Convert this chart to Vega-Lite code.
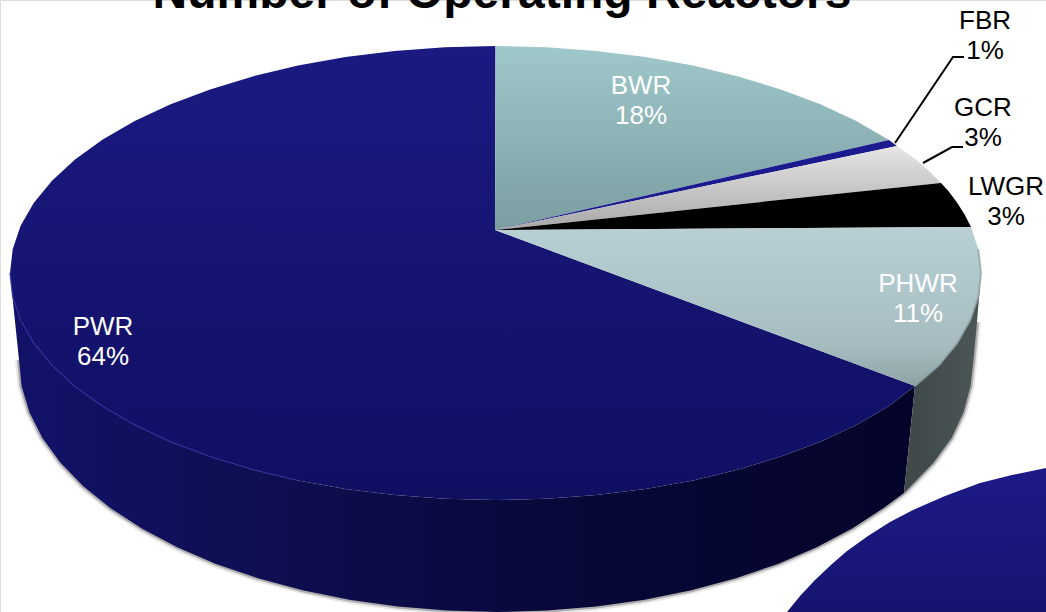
{"$schema":"https://vega.github.io/schema/vega-lite/v6.json","width":1046,"height":612,"autosize":"none","padding":0,"background":"white",
"datasets":{"outline":[
{"part":"wallPHWR","i":0,"x":981,"y":273},{"part":"wallPHWR","i":1,"x":978.3,"y":296.7},{"part":"wallPHWR","i":2,"x":970.4,"y":320.2},{"part":"wallPHWR","i":3,"x":957.3,"y":343.1},{"part":"wallPHWR","i":4,"x":939,"y":365.3},{"part":"wallPHWR","i":5,"x":915,"y":386},{"part":"wallPHWR","i":6,"x":904,"y":493},{"part":"wallPHWR","i":7,"x":911,"y":486},{"part":"wallPHWR","i":8,"x":933.7,"y":462.5},{"part":"wallPHWR","i":9,"x":951.6,"y":437.9},{"part":"wallPHWR","i":10,"x":963.5,"y":412.4},{"part":"wallPHWR","i":11,"x":970.5,"y":386.3},{"part":"wallPHWR","i":12,"x":973.5,"y":360},{"part":"wallPHWR","i":13,"x":977,"y":322},
{"part":"wallPWR","i":0,"x":915,"y":386},{"part":"wallPWR","i":1,"x":888.3,"y":406.4},{"part":"wallPWR","i":2,"x":856.3,"y":424.9},{"part":"wallPWR","i":3,"x":820.4,"y":441.7},{"part":"wallPWR","i":4,"x":780.9,"y":456.6},{"part":"wallPWR","i":5,"x":738.3,"y":469.6},{"part":"wallPWR","i":6,"x":693,"y":480.4},{"part":"wallPWR","i":7,"x":645.5,"y":488.9},{"part":"wallPWR","i":8,"x":596.4,"y":495},{"part":"wallPWR","i":9,"x":546.2,"y":498.8},{"part":"wallPWR","i":10,"x":495.5,"y":500},{"part":"wallPWR","i":11,"x":444.8,"y":498.8},{"part":"wallPWR","i":12,"x":394.6,"y":495},{"part":"wallPWR","i":13,"x":345.5,"y":488.9},{"part":"wallPWR","i":14,"x":298,"y":480.4},{"part":"wallPWR","i":15,"x":252.7,"y":469.6},{"part":"wallPWR","i":16,"x":210.1,"y":456.6},{"part":"wallPWR","i":17,"x":170.6,"y":441.7},{"part":"wallPWR","i":18,"x":134.7,"y":424.9},{"part":"wallPWR","i":19,"x":102.7,"y":406.4},{"part":"wallPWR","i":20,"x":75,"y":386.5},{"part":"wallPWR","i":21,"x":52,"y":365.3},{"part":"wallPWR","i":22,"x":33.7,"y":343.1},{"part":"wallPWR","i":23,"x":20.6,"y":320.2},{"part":"wallPWR","i":24,"x":12.7,"y":296.7},{"part":"wallPWR","i":25,"x":10,"y":273},{"part":"wallPWR","i":26,"x":19,"y":360},{"part":"wallPWR","i":27,"x":21.6,"y":386.3},{"part":"wallPWR","i":28,"x":29.5,"y":412.4},{"part":"wallPWR","i":29,"x":42.4,"y":437.9},{"part":"wallPWR","i":30,"x":60.3,"y":462.5},{"part":"wallPWR","i":31,"x":83,"y":486},{"part":"wallPWR","i":32,"x":110.3,"y":508.1},{"part":"wallPWR","i":33,"x":141.8,"y":528.6},{"part":"wallPWR","i":34,"x":177.2,"y":547.3},{"part":"wallPWR","i":35,"x":216,"y":563.9},{"part":"wallPWR","i":36,"x":258,"y":578.2},{"part":"wallPWR","i":37,"x":302.6,"y":590.2},{"part":"wallPWR","i":38,"x":349.3,"y":599.7},{"part":"wallPWR","i":39,"x":397.6,"y":606.5},{"part":"wallPWR","i":40,"x":447,"y":610.6},{"part":"wallPWR","i":41,"x":497,"y":612},{"part":"wallPWR","i":42,"x":547,"y":610.6},{"part":"wallPWR","i":43,"x":596.4,"y":606.5},{"part":"wallPWR","i":44,"x":644.7,"y":599.7},{"part":"wallPWR","i":45,"x":691.4,"y":590.2},{"part":"wallPWR","i":46,"x":736,"y":578.2},{"part":"wallPWR","i":47,"x":778,"y":563.9},{"part":"wallPWR","i":48,"x":816.8,"y":547.3},{"part":"wallPWR","i":49,"x":852.2,"y":528.6},{"part":"wallPWR","i":50,"x":883.7,"y":508.1},{"part":"wallPWR","i":51,"x":904,"y":493},
{"part":"PWR","i":0,"x":495,"y":230},{"part":"PWR","i":1,"x":915,"y":386},{"part":"PWR","i":2,"x":888.3,"y":406.4},{"part":"PWR","i":3,"x":856.3,"y":424.9},{"part":"PWR","i":4,"x":820.4,"y":441.7},{"part":"PWR","i":5,"x":780.9,"y":456.6},{"part":"PWR","i":6,"x":738.3,"y":469.6},{"part":"PWR","i":7,"x":693,"y":480.4},{"part":"PWR","i":8,"x":645.5,"y":488.9},{"part":"PWR","i":9,"x":596.4,"y":495},{"part":"PWR","i":10,"x":546.2,"y":498.8},{"part":"PWR","i":11,"x":495.5,"y":500},{"part":"PWR","i":12,"x":444.8,"y":498.8},{"part":"PWR","i":13,"x":394.6,"y":495},{"part":"PWR","i":14,"x":345.5,"y":488.9},{"part":"PWR","i":15,"x":298,"y":480.4},{"part":"PWR","i":16,"x":252.7,"y":469.6},{"part":"PWR","i":17,"x":210.1,"y":456.6},{"part":"PWR","i":18,"x":170.6,"y":441.7},{"part":"PWR","i":19,"x":134.7,"y":424.9},{"part":"PWR","i":20,"x":102.7,"y":406.4},{"part":"PWR","i":21,"x":75,"y":386.5},{"part":"PWR","i":22,"x":52,"y":365.3},{"part":"PWR","i":23,"x":33.7,"y":343.1},{"part":"PWR","i":24,"x":20.6,"y":320.2},{"part":"PWR","i":25,"x":12.7,"y":296.7},{"part":"PWR","i":26,"x":10,"y":273},{"part":"PWR","i":27,"x":12.7,"y":249.3},{"part":"PWR","i":28,"x":20.6,"y":225.8},{"part":"PWR","i":29,"x":33.7,"y":202.9},{"part":"PWR","i":30,"x":52,"y":180.7},{"part":"PWR","i":31,"x":75,"y":159.5},{"part":"PWR","i":32,"x":102.7,"y":139.6},{"part":"PWR","i":33,"x":134.7,"y":121.1},{"part":"PWR","i":34,"x":170.6,"y":104.3},{"part":"PWR","i":35,"x":210.1,"y":89.4},{"part":"PWR","i":36,"x":252.7,"y":76.4},{"part":"PWR","i":37,"x":298,"y":65.6},{"part":"PWR","i":38,"x":345.5,"y":57.1},{"part":"PWR","i":39,"x":394.6,"y":51},{"part":"PWR","i":40,"x":444.8,"y":47.2},{"part":"PWR","i":41,"x":495.5,"y":46},
{"part":"BWR","i":0,"x":495,"y":230},{"part":"BWR","i":1,"x":495.5,"y":46},{"part":"BWR","i":2,"x":546.2,"y":47.2},{"part":"BWR","i":3,"x":596.4,"y":51},{"part":"BWR","i":4,"x":645.5,"y":57.1},{"part":"BWR","i":5,"x":693,"y":65.6},{"part":"BWR","i":6,"x":738.3,"y":76.4},{"part":"BWR","i":7,"x":780.9,"y":89.4},{"part":"BWR","i":8,"x":820.4,"y":104.3},{"part":"BWR","i":9,"x":856.3,"y":121.1},{"part":"BWR","i":10,"x":889,"y":140},
{"part":"FBR","i":0,"x":495,"y":230},{"part":"FBR","i":1,"x":889,"y":140},{"part":"FBR","i":2,"x":897,"y":146},
{"part":"GCR","i":0,"x":495,"y":230},{"part":"GCR","i":1,"x":897,"y":146},{"part":"GCR","i":2,"x":916,"y":159.5},{"part":"GCR","i":3,"x":928.1,"y":170},{"part":"GCR","i":4,"x":941,"y":183},
{"part":"LWGR","i":0,"x":495,"y":230},{"part":"LWGR","i":1,"x":941,"y":183},{"part":"LWGR","i":2,"x":948.8,"y":191.6},{"part":"LWGR","i":3,"x":957.3,"y":202.9},{"part":"LWGR","i":4,"x":964.5,"y":214.3},{"part":"LWGR","i":5,"x":971,"y":227},
{"part":"PHWR","i":0,"x":495,"y":230},{"part":"PHWR","i":1,"x":971,"y":227},{"part":"PHWR","i":2,"x":978.3,"y":249.3},{"part":"PHWR","i":3,"x":981,"y":273},{"part":"PHWR","i":4,"x":978.3,"y":296.7},{"part":"PHWR","i":5,"x":970.4,"y":320.2},{"part":"PHWR","i":6,"x":957.3,"y":343.1},{"part":"PHWR","i":7,"x":939,"y":365.3},{"part":"PHWR","i":8,"x":915,"y":386},
{"part":"second","i":0,"x":787,"y":612},{"part":"second","i":1,"x":800,"y":596},{"part":"second","i":2,"x":815,"y":580},{"part":"second","i":3,"x":832,"y":564},{"part":"second","i":4,"x":847,"y":551},{"part":"second","i":5,"x":868,"y":536},{"part":"second","i":6,"x":890,"y":522},{"part":"second","i":7,"x":913,"y":510},{"part":"second","i":8,"x":945,"y":496},{"part":"second","i":9,"x":980,"y":483},{"part":"second","i":10,"x":1012,"y":475},{"part":"second","i":11,"x":1046,"y":468},{"part":"second","i":12,"x":1046,"y":612}
],
"leaders":[
{"label":"FBR","i":0,"x":895,"y":143},{"label":"FBR","i":1,"x":953,"y":57},{"label":"FBR","i":2,"x":964,"y":57},
{"label":"GCR","i":0,"x":923,"y":163},{"label":"GCR","i":1,"x":952,"y":147},{"label":"GCR","i":2,"x":963,"y":147}
],
"labels":[
{"label":"PWR\n64%","reactor":"PWR","share":64,"side":"inside","x":103,"y":335},
{"label":"BWR\n18%","reactor":"BWR","share":18,"side":"inside","x":641,"y":94},
{"label":"PHWR\n11%","reactor":"PHWR","share":11,"side":"inside","x":918,"y":292},
{"label":"FBR\n1%","reactor":"FBR","share":1,"side":"outside","x":985,"y":29},
{"label":"GCR\n3%","reactor":"GCR","share":3,"side":"outside","x":983,"y":116},
{"label":"LWGR\n3%","reactor":"LWGR","share":3,"side":"outside","x":1006,"y":195}
],
"heading":[{"label":"Number of Operating Reactors","x":502,"y":8}]},
"encoding":{
"x":{"field":"x","type":"quantitative","scale":{"domain":[0,1046]},"axis":null},
"y":{"field":"y","type":"quantitative","scale":{"domain":[612,0]},"axis":null}
},
"layer":[
{"data":{"name":"outline"},"transform":[{"filter":"(datum.part==='wallPWR'&&datum.i>=26)||(datum.part==='wallPHWR'&&datum.i>=6)"}],"mark":{"type":"line","stroke":"#666666","strokeWidth":8,"opacity":0.15,"clip":true},"encoding":{"order":{"field":"i"},"detail":{"field":"part"}}},
{"data":{"name":"outline"},"transform":[{"filter":"(datum.part==='wallPWR'&&datum.i>=26)||(datum.part==='wallPHWR'&&datum.i>=6)"}],"mark":{"type":"line","stroke":"#555555","strokeWidth":4,"opacity":0.4,"clip":true},"encoding":{"order":{"field":"i"},"detail":{"field":"part"}}},
{"data":{"name":"outline"},"transform":[{"filter":"datum.part==='wallPWR'"}],"mark":{"type":"line","strokeWidth":0,"fill":{"gradient":"linear","x1":0,"y1":0,"x2":1,"y2":0,"stops":[{"offset":0,"color":"#12126a"},{"offset":0.3,"color":"#0e0e50"},{"offset":0.6,"color":"#08083a"},{"offset":1,"color":"#04042a"}]}},"encoding":{"order":{"field":"i"}}},
{"data":{"name":"outline"},"transform":[{"filter":"datum.part==='wallPHWR'"}],"mark":{"type":"line","strokeWidth":0,"fill":{"gradient":"linear","x1":0,"y1":0,"x2":1,"y2":0,"stops":[{"offset":0,"color":"#3f4847"},{"offset":1,"color":"#4c5657"}]}},"encoding":{"order":{"field":"i"}}},
{"data":{"name":"outline"},"transform":[{"filter":"datum.part==='PWR'"}],"mark":{"type":"line","strokeWidth":0,"fill":{"gradient":"linear","x1":0,"y1":0,"x2":0,"y2":1,"stops":[{"offset":0,"color":"#1b1a82"},{"offset":1,"color":"#0f0f62"}]}},"encoding":{"order":{"field":"i"}}},
{"data":{"name":"outline"},"transform":[{"filter":"datum.part==='BWR'"}],"mark":{"type":"line","strokeWidth":0,"fill":{"gradient":"linear","x1":0,"y1":0,"x2":0,"y2":1,"stops":[{"offset":0,"color":"#9fc8cb"},{"offset":1,"color":"#7a9da0"}]}},"encoding":{"order":{"field":"i"}}},
{"data":{"name":"outline"},"transform":[{"filter":"datum.part==='FBR'"}],"mark":{"type":"line","strokeWidth":0,"fill":"#1c1a8f"},"encoding":{"order":{"field":"i"}}},
{"data":{"name":"outline"},"transform":[{"filter":"datum.part==='GCR'"}],"mark":{"type":"line","strokeWidth":0,"fill":{"gradient":"linear","x1":0,"y1":0,"x2":0,"y2":1,"stops":[{"offset":0,"color":"#e6e6e6"},{"offset":1,"color":"#a8a8a8"}]}},"encoding":{"order":{"field":"i"}}},
{"data":{"name":"outline"},"transform":[{"filter":"datum.part==='LWGR'"}],"mark":{"type":"line","strokeWidth":0,"fill":"#000000"},"encoding":{"order":{"field":"i"}}},
{"data":{"name":"outline"},"transform":[{"filter":"datum.part==='PHWR'"}],"mark":{"type":"line","strokeWidth":0,"fill":{"gradient":"linear","x1":0,"y1":0,"x2":0,"y2":1,"stops":[{"offset":0,"color":"#b8d0d4"},{"offset":0.75,"color":"#a6bcc0"},{"offset":1,"color":"#8ea3a6"}]}},"encoding":{"order":{"field":"i"}}},
{"data":{"name":"outline"},"transform":[{"filter":"datum.part==='PWR'&&datum.i>=15&&datum.i<=26"}],"mark":{"type":"line","stroke":"#2c2c9a","strokeWidth":1.5,"opacity":0.7},"encoding":{"order":{"field":"i"}}},
{"data":{"name":"outline"},"transform":[{"filter":"datum.part==='PHWR'&&datum.i>=2"}],"mark":{"type":"line","stroke":"#8b9d9f","strokeWidth":2,"opacity":0.7},"encoding":{"order":{"field":"i"}}},
{"data":{"name":"outline"},"transform":[{"filter":"datum.part==='second'"}],"mark":{"type":"line","strokeWidth":0,"fill":{"gradient":"linear","x1":0,"y1":0,"x2":0,"y2":1,"stops":[{"offset":0,"color":"#1d1a88"},{"offset":1,"color":"#16146f"}]}},"encoding":{"order":{"field":"i"}}},
{"data":{"name":"leaders"},"mark":{"type":"line","stroke":"#000000","strokeWidth":2},"encoding":{"order":{"field":"i"},"detail":{"field":"label"}}},
{"data":{"name":"labels"},"transform":[{"filter":"datum.side==='inside'"}],"mark":{"type":"text","font":"Liberation Sans","fontSize":26,"lineBreak":"\n","lineHeight":30,"align":"center","baseline":"alphabetic","fill":"#ffffff"},"encoding":{"text":{"field":"label"}}},
{"data":{"name":"labels"},"transform":[{"filter":"datum.side==='outside'"}],"mark":{"type":"text","font":"Liberation Sans","fontSize":26,"lineBreak":"\n","lineHeight":30,"align":"center","baseline":"alphabetic","fill":"#000000"},"encoding":{"text":{"field":"label"}}},
{"data":{"name":"heading"},"mark":{"type":"text","font":"Liberation Sans","fontSize":48,"fontWeight":"bold","align":"center","baseline":"alphabetic","fill":"#000000"},"encoding":{"text":{"field":"label"}}}
]}
